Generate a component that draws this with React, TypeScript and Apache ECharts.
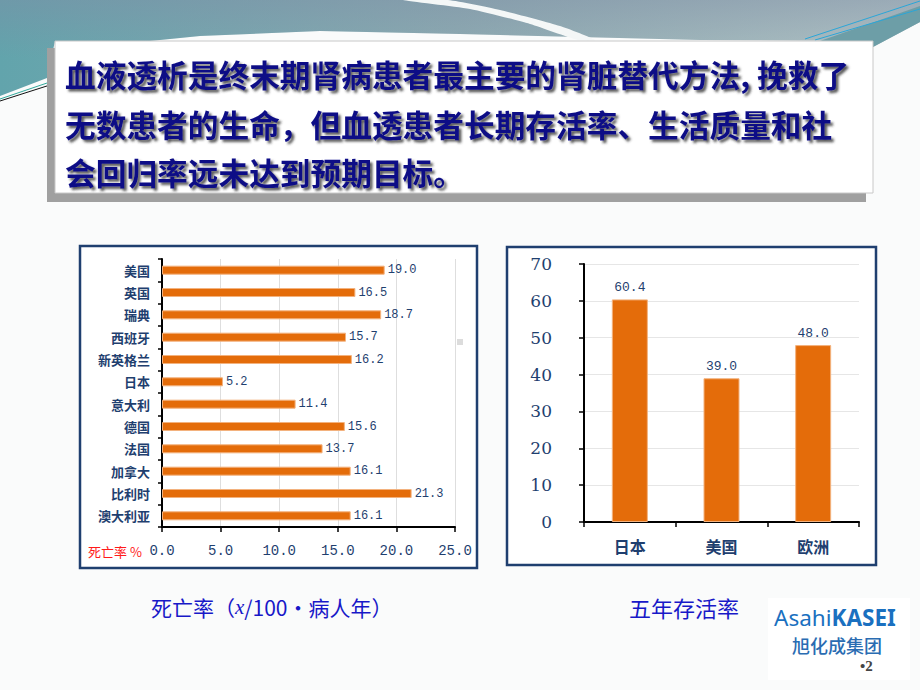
import React, { useEffect, useRef } from "react";
import * as echarts from "echarts";

const countries = ["美国", "英国", "瑞典", "西班牙", "新英格兰", "日本", "意大利", "德国", "法国", "加拿大", "比利时", "澳大利亚"];
const mortality = [19.0, 16.5, 18.7, 15.7, 16.2, 5.2, 11.4, 15.6, 13.7, 16.1, 21.3, 16.1];
const regions = ["日本", "美国", "欧洲"];
const survival = [60.4, 39.0, 48.0];
const titleLines = [
  "血液透析是终末期肾病患者最主要的肾脏替代方法, 挽救了",
  "无数患者的生命，但血透患者长期存活率、生活质量和社",
  "会回归率远未达到预期目标。",
];

const NAVY = "#1f3f6f";
const ORANGE = "#e46c0a";
const CJK = '"Noto Sans CJK SC", sans-serif';
const MONO = '"Liberation Mono", monospace';

export default function App() {
  const ref = useRef<HTMLDivElement>(null);
  useEffect(() => {
    if (!ref.current) return;
    const chart = echarts.init(ref.current, undefined, { renderer: "svg" });
    const tealPoints = [
      [0, 0], [920, 0], [920, 22], [873, 47], [873, 41], [700, 40], [460, 34],
      [320, 31], [200, 36], [150, 41], [55, 41], [47, 78], [0, 96],
    ];
    const graphics: any[] = [
      {
        type: "polygon",
        z: -10,
        shape: { points: tealPoints },
        style: {
          fill: new echarts.graphic.LinearGradient(0, 0, 1, 0, [
            { offset: 0, color: "#62a4ac" },
            { offset: 0.5, color: "#8eacb2" },
            { offset: 1, color: "#b4c5c6" },
          ]),
        },
      },
      {
        type: "polygon",
        z: -10,
        shape: { points: tealPoints },
        style: {
          fill: new echarts.graphic.LinearGradient(0, 0, 0, 1, [
            { offset: 0, color: "rgba(125,140,165,0.45)" },
            { offset: 0.6, color: "rgba(125,140,165,0)" },
          ]),
        },
      },
      {
        type: "polygon",
        z: -9,
        shape: { points: [[820, 41], [920, 6], [920, 22], [873, 47], [873, 41]] },
        style: { fill: "#6d9ea7" },
      },
      {
        type: "polygon",
        z: -9,
        shape: { points: [[403, 0], [448, 0], [500, 10], [560, 26], [595, 40], [578, 40], [530, 24], [470, 9]], smooth: 0.2 },
        style: { fill: "#f4f7f7" },
      },
      { type: "line", z: -8, shape: { x1: 805, y1: 39, x2: 920, y2: 1 }, style: { stroke: "#2aa6d8", lineWidth: 1 } },
      { type: "line", z: -8, shape: { x1: 815, y1: 40, x2: 920, y2: 9 }, style: { stroke: "#2aa6d8", lineWidth: 1 } },
      { type: "line", z: -8, shape: { x1: 0, y1: 99, x2: 50, y2: 82 }, style: { stroke: "#30a89a", lineWidth: 1 } },
      { type: "line", z: -8, shape: { x1: 0, y1: 101, x2: 50, y2: 85 }, style: { stroke: "#111", lineWidth: 1 } },
      // title box
      { type: "rect", z: -5, shape: { x: 47, y: 48, width: 819, height: 154 }, style: { fill: "#a0a0a0" } },
      { type: "rect", z: -4, shape: { x: 55, y: 41, width: 818, height: 152 }, style: { fill: "#ffffff", stroke: "#c8c8c8", lineWidth: 1 } },
      ...titleLines.map((t, i) => ({
        type: "text",
        z: 5,
        x: 65,
        y: [73, 123, 171][i],
        style: {
          text: t,
          font: `bold 30.7px ${CJK}`,
          fill: "#0e0e86",
          textVerticalAlign: "middle",
          textShadowColor: "rgba(45,45,45,0.8)",
          textShadowOffsetX: 2.5,
          textShadowOffsetY: 2.5,
          textShadowBlur: 2,
        },
      })),
      // chart boxes
      { type: "rect", z: -3, shape: { x: 80, y: 246, width: 397, height: 322 }, style: { fill: "#ffffff", stroke: NAVY, lineWidth: 2.5 } },
      { type: "rect", z: -3, shape: { x: 507, y: 247, width: 369, height: 318 }, style: { fill: "#ffffff", stroke: NAVY, lineWidth: 2.5 } },
      { type: "rect", z: -2, shape: { x: 457, y: 339, width: 6, height: 6 }, style: { fill: "#dcdcdc" } },
      {
        type: "text",
        z: 5,
        x: 88,
        y: 551,
        style: { text: "死亡率 %", font: `13px ${CJK}`, fill: "#ff1a1a", textVerticalAlign: "middle" },
      },
      // captions
      {
        type: "text",
        z: 5,
        x: 151,
        y: 607,
        style: {
          text: "{a|死亡率（}{b|x}{a|/100・病人年）}",
          textVerticalAlign: "middle",
          rich: {
            a: { font: `21px ${CJK}`, fill: "#1818c8" },
            b: { font: 'italic 21px "Liberation Serif", serif', fill: "#1818c8" },
          },
        },
      },
      {
        type: "text",
        z: 5,
        x: 629,
        y: 607,
        style: { text: "五年存活率", font: `22px ${CJK}`, fill: "#1818c8", textVerticalAlign: "middle" },
      },
      // logo
      { type: "rect", z: -2, shape: { x: 768, y: 598, width: 142, height: 82 }, style: { fill: "#ffffff" } },
      {
        type: "text",
        z: 5,
        x: 774,
        y: 617,
        style: {
          text: "{a|Asahi}{b|KASEI}",
          textVerticalAlign: "middle",
          rich: {
            a: { font: '22.5px "Noto Sans", sans-serif', fill: "#1a70c0" },
            b: { font: 'bold 22.5px "Noto Sans", sans-serif', fill: "#1a70c0" },
          },
        },
      },
      {
        type: "text",
        z: 5,
        x: 792,
        y: 645,
        style: { text: "旭化成集团", font: `500 18px ${CJK}`, fill: "#2a6cb2", textVerticalAlign: "middle" },
      },
      {
        type: "text",
        z: 5,
        x: 860,
        y: 666,
        style: { text: "•2", font: 'bold 15px "Liberation Serif", serif', fill: "#444", textVerticalAlign: "middle" },
      },
    ];

    chart.setOption({
      animation: false,
      backgroundColor: "#fafbfb",
      graphic: graphics,
      grid: [
        { left: 162, top: 259, width: 293, height: 268 },
        { left: 584, top: 264, width: 275, height: 258 },
      ],
      xAxis: [
        {
          gridIndex: 0,
          type: "value",
          min: 0,
          max: 25,
          interval: 5,
          axisLine: { show: true, lineStyle: { color: "#000", width: 2 } },
          axisTick: { show: true, length: 5, lineStyle: { color: "#000", width: 1.5 } },
          axisLabel: {
            margin: 17,
            formatter: (v: number) => v.toFixed(1),
            fontFamily: MONO,
            fontSize: 14,
            color: NAVY,
          },
          splitLine: { show: true, lineStyle: { color: "#dedede", width: 1 } },
        },
        {
          gridIndex: 1,
          type: "category",
          data: regions,
          axisLine: { show: true, lineStyle: { color: "#000", width: 2 } },
          axisTick: { show: true, length: 5, lineStyle: { color: "#000", width: 1.5 } },
          axisLabel: { margin: 16, fontFamily: CJK, fontSize: 16, fontWeight: "bold", color: NAVY },
        },
      ],
      yAxis: [
        {
          gridIndex: 0,
          type: "category",
          data: countries,
          inverse: true,
          axisLine: { show: true, lineStyle: { color: "#000", width: 2 } },
          axisTick: { show: true, length: 4, lineStyle: { color: "#000", width: 1.5 } },
          axisLabel: { margin: 12, fontFamily: CJK, fontSize: 13, fontWeight: "bold", color: NAVY },
        },
        {
          gridIndex: 1,
          type: "value",
          min: 0,
          max: 70,
          interval: 10,
          axisLine: { show: true, lineStyle: { color: "#000", width: 2 } },
          axisTick: { show: true, length: 5, lineStyle: { color: "#000", width: 1.5 } },
          axisLabel: { margin: 32, fontFamily: '"DejaVu Serif", serif', fontSize: 17, color: NAVY },
          splitLine: { show: true, lineStyle: { color: "#e6e6e6", width: 1 } },
        },
      ],
      series: [
        {
          type: "bar",
          xAxisIndex: 0,
          yAxisIndex: 0,
          data: mortality,
          barWidth: 9,
          itemStyle: { color: ORANGE, borderColor: "#f3b27e", borderWidth: 1 },
          label: {
            show: true,
            position: "right",
            distance: 3,
            formatter: (p: any) => Number(p.value).toFixed(1),
            fontFamily: MONO,
            fontSize: 12,
            color: NAVY,
          },
        },
        {
          type: "bar",
          xAxisIndex: 1,
          yAxisIndex: 1,
          data: survival,
          barWidth: 36,
          itemStyle: { color: ORANGE, borderColor: "#f3b27e", borderWidth: 1 },
          label: {
            show: true,
            position: "top",
            distance: 5,
            formatter: (p: any) => Number(p.value).toFixed(1),
            fontFamily: MONO,
            fontSize: 13,
            color: NAVY,
          },
        },
      ],
    });
    return () => chart.dispose();
  }, []);
  return <div ref={ref} style={{ position: "absolute", left: 0, top: 0, width: 920, height: 690 }} />;
}
